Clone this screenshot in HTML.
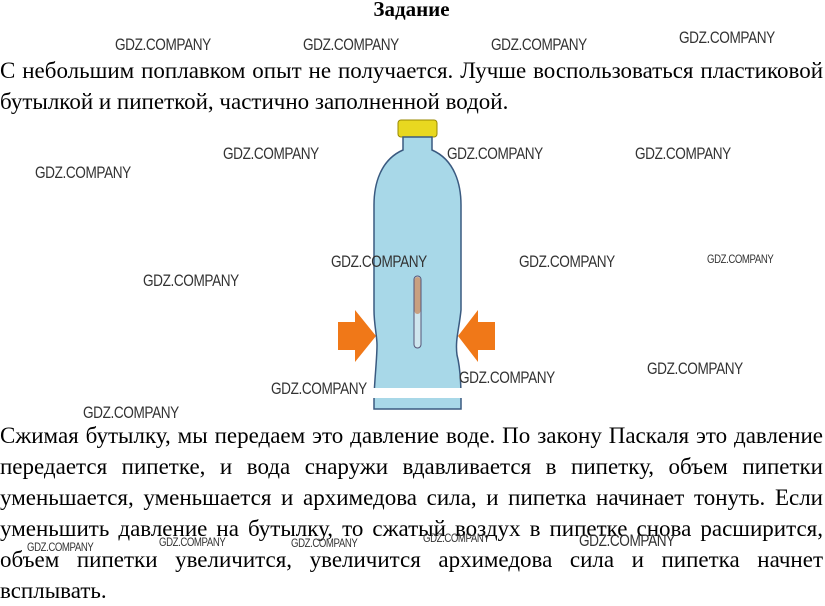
<!DOCTYPE html>
<html><head><meta charset="utf-8"><style>
body{margin:0;width:825px;height:595px;background:#fff;position:relative;overflow:hidden;font-family:"Liberation Serif",serif;color:#000}
.t{position:absolute;left:0;width:823px;font-size:23px;line-height:31px;white-space:nowrap}
.j{text-align:justify;text-align-last:justify;white-space:normal}
.w{position:absolute;font-family:"Liberation Sans",sans-serif;font-size:17px;color:#333;transform:scaleX(0.8);transform-origin:left;letter-spacing:-0.5px}
.s{font-size:12px}
</style></head><body>
<div class="t" style="top:-6px;text-align:center;font-weight:bold;font-size:21px">Задание</div>
<div class="t j" style="top:55px">С небольшим поплавком опыт не получается. Лучше воспользоваться пластиковой</div>
<div class="t" style="top:86px">бутылкой и пипеткой, частично заполненной водой.</div>
<svg style="position:absolute;left:0;top:0" width="825" height="595">
<rect x="398" y="120" width="39" height="17" rx="3" fill="#e8d820" stroke="#998800"/>
<path d="M403,137 L432,137 L432,150 C455,160 461,185 461,205 L461,310 C459,330 455,340 457,355 C461,370 461,390 461,400 L461,409 L374,409 L374,400 C374,385 377,360 377,345 C377,335 374,325 374,310 L374,205 C374,185 380,160 403,150 Z" fill="#a8d8e8" stroke="#3a5a80" stroke-width="1.5"/>
<rect x="414" y="276" width="7" height="72" rx="3.5" fill="#cfe6ee" stroke="#557"/>
<rect x="414.5" y="277" width="6" height="37" rx="3" fill="#c8a080"/>
<path d="M338,322 L355,322 L355,310 L376,336 L355,362 L355,350 L338,350Z" fill="#f07818"/>
<path d="M495,322 L478,322 L478,310 L458,336 L478,362 L478,350 L495,350Z" fill="#f07818"/>
<rect x="370" y="388" width="100" height="10" fill="#fff"/>
</svg>
<div class="t j" style="top:420px">Сжимая бутылку, мы передаем это давление воде. По закону Паскаля это давление</div>
<div class="t j" style="top:451px">передается пипетке, и вода снаружи вдавливается в пипетку, объем пипетки</div>
<div class="t j" style="top:482px">уменьшается, уменьшается и архимедова сила, и пипетка начинает тонуть. Если</div>
<div class="t j" style="top:513px">уменьшить давление на бутылку, то сжатый воздух в пипетке снова расширится,</div>
<div class="t j" style="top:544px">объем пипетки увеличится, увеличится архимедова сила и пипетка начнет</div>
<div class="t" style="top:575px">всплывать.</div>
<div class="w" style="left:115px;top:35px">GDZ.COMPANY</div>
<div class="w" style="left:303px;top:35px">GDZ.COMPANY</div>
<div class="w" style="left:491px;top:35px">GDZ.COMPANY</div>
<div class="w" style="left:679px;top:28px">GDZ.COMPANY</div>
<div class="w" style="left:35px;top:163px">GDZ.COMPANY</div>
<div class="w" style="left:223px;top:144px">GDZ.COMPANY</div>
<div class="w" style="left:447px;top:144px">GDZ.COMPANY</div>
<div class="w" style="left:635px;top:144px">GDZ.COMPANY</div>
<div class="w" style="left:143px;top:271px">GDZ.COMPANY</div>
<div class="w" style="left:331px;top:252px">GDZ.COMPANY</div>
<div class="w" style="left:519px;top:252px">GDZ.COMPANY</div>
<div class="w s" style="left:707px;top:252px">GDZ.COMPANY</div>
<div class="w" style="left:271px;top:379px">GDZ.COMPANY</div>
<div class="w" style="left:459px;top:368px">GDZ.COMPANY</div>
<div class="w" style="left:647px;top:359px">GDZ.COMPANY</div>
<div class="w" style="left:83px;top:403px">GDZ.COMPANY</div>
<div class="w s" style="left:27px;top:540px">GDZ.COMPANY</div>
<div class="w s" style="left:159px;top:535px">GDZ.COMPANY</div>
<div class="w s" style="left:291px;top:536px">GDZ.COMPANY</div>
<div class="w s" style="left:423px;top:531px">GDZ.COMPANY</div>
<div class="w" style="left:579px;top:531px">GDZ.COMPANY</div>
</body></html>
